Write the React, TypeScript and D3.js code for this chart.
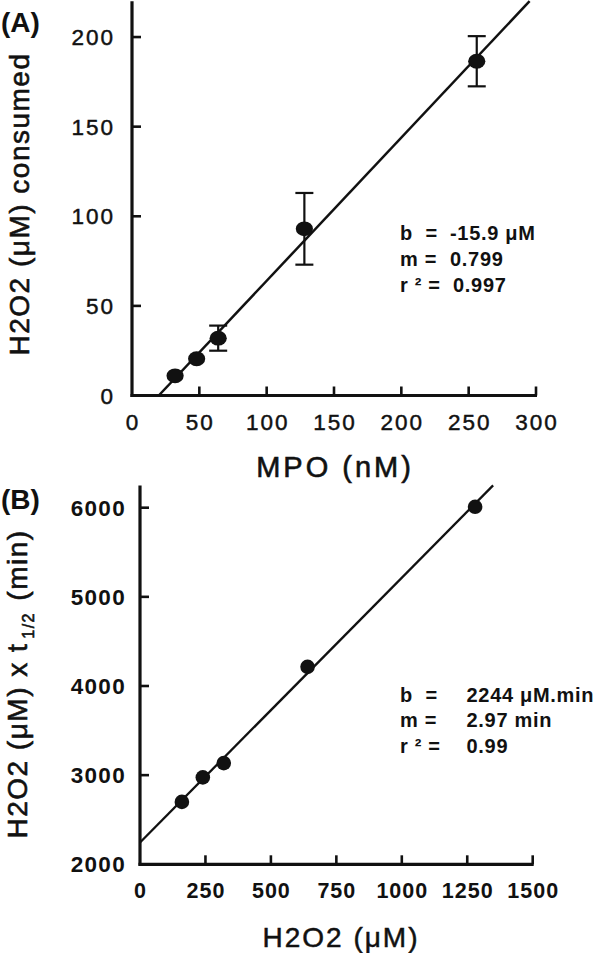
import React from 'react';
import * as d3 from 'd3';

// Panel A data
const mpoConc = [32, 48, 64, 128, 256];
const h2o2Consumed = [11, 20.5, 32, 93, 186.5];
const h2o2ConsumedErr = [0, 0, 7, 20, 14];
const fitA = { b: -15.9, m: 0.799 };
const xTicksA = [0, 50, 100, 150, 200, 250, 300];
const yTicksA = [0, 50, 100, 150, 200];
const statsA = [
  ['b  =', '-15.9 μM'],
  ['m =', '0.799'],
  ['r ² =', '0.997'],
];

// Panel B data
const h2o2Conc = [160, 240, 320, 640, 1280];
const h2o2TimesHalf = [2700, 2975, 3135, 4215, 6010];
const fitB = { b: 2244, m: 2.97 };
const xTicksB = [0, 250, 500, 750, 1000, 1250, 1500];
const yTicksB = [2000, 3000, 4000, 5000, 6000];
const statsB = [
  ['b  =', '2244 μM.min'],
  ['m =', '2.97 min'],
  ['r ² =', '0.99'],
];

const FONT = "'Liberation Sans', Arial, Helvetica, sans-serif";
const INK = '#111';

export default function App() {
  const xA = d3.scaleLinear().domain([0, 300]).range([132, 536]);
  const yA = d3.scaleLinear().domain([0, 220]).range([395.5, 1.2]);
  const xB = d3.scaleLinear().domain([0, 1500]).range([140, 532.7]);
  const yB = d3.scaleLinear().domain([2000, 6250]).range([864.3, 485.4]);

  const lineGen = d3.line<[number, number]>();

  const [ya0, ya1] = yA.domain();
  const fitAPts: [number, number][] = [
    [(ya0 - fitA.b) / fitA.m, ya0],
    [(ya1 - fitA.b) / fitA.m, ya1],
  ].map(([x, y]) => [xA(x), yA(y)] as [number, number]);

  const [, yb1] = yB.domain();
  const fitBPts: [number, number][] = [
    [0, fitB.b],
    [(yb1 - fitB.b) / fitB.m, yb1],
  ].map(([x, y]) => [xB(x), yB(y)] as [number, number]);

  const tickLen = 9;
  const thin = { stroke: INK, strokeWidth: 0.45 };

  return (
    <svg
      width={598}
      height={953}
      style={{ position: 'absolute', left: 0, top: 0, background: '#fff', display: 'block' }}
      fontFamily={FONT}
    >
      <rect x={0} y={0} width={598} height={953} fill="#fff" />

      {/* ===== Panel A ===== */}
      <text x={1} y={32} fontSize={28} fontWeight="bold" fill={INK}>(A)</text>

      <line x1={xA(0)} x2={xA(0)} y1={yA.range()[1]} y2={yA(0) + 1.5} stroke={INK} strokeWidth={3.2} />
      <line x1={xA(0) - 1.5} x2={xA(300) + 1} y1={yA(0)} y2={yA(0)} stroke={INK} strokeWidth={3.2} />
      {yTicksA.filter((t) => t > 0).map((t) => (
        <line key={'yta' + t} x1={xA(0)} x2={xA(0) + tickLen} y1={yA(t)} y2={yA(t)} stroke={INK} strokeWidth={2.6} />
      ))}
      {xTicksA.filter((t) => t > 0).map((t) => (
        <line key={'xta' + t} x1={xA(t)} x2={xA(t)} y1={yA(0)} y2={yA(0) - tickLen} stroke={INK} strokeWidth={2.6} />
      ))}
      {yTicksA.map((t) => (
        <text key={'ylA' + t} x={115} y={yA(t)} dy="0.36em" textAnchor="end" fontSize={22.5} letterSpacing={2} fill={INK} {...thin}>
          {t}
        </text>
      ))}
      {xTicksA.map((t) => (
        <text key={'xlA' + t} x={xA(t) + 1} y={430} textAnchor="middle" fontSize={22.5} letterSpacing={2} fill={INK} {...thin}>
          {t}
        </text>
      ))}
      <text x={335} y={477} textAnchor="middle" fontSize={29} letterSpacing={3} fill={INK} stroke={INK} strokeWidth={0.6}>MPO (nM)</text>
      <text
        transform={`translate(29, 204) rotate(-90)`}
        textAnchor="middle"
        fontSize={28}
        letterSpacing={1.5}
        fill={INK}
        stroke={INK}
        strokeWidth={0.6}
      >
        H2O2 (μM) consumed
      </text>

      <path d={lineGen(fitAPts) || ''} stroke={INK} strokeWidth={2.5} fill="none" />

      {mpoConc.map((x, i) => {
        if (!h2o2ConsumedErr[i]) return null;
        const cx = xA(x);
        const top = yA(h2o2Consumed[i] + h2o2ConsumedErr[i]);
        const bot = yA(h2o2Consumed[i] - h2o2ConsumedErr[i]);
        return (
          <g key={'eb' + i} stroke={INK} strokeWidth={2.2}>
            <line x1={cx} x2={cx} y1={top} y2={bot} />
            <line x1={cx - 9} x2={cx + 9} y1={top} y2={top} />
            <line x1={cx - 9} x2={cx + 9} y1={bot} y2={bot} />
          </g>
        );
      })}
      {mpoConc.map((x, i) => (
        <ellipse key={'pa' + i} cx={xA(x)} cy={yA(h2o2Consumed[i])} rx={8.6} ry={7.4} fill={INK} />
      ))}

      {statsA.map(([l, v], i) => (
        <g key={'sa' + i} fontSize={20} fontWeight="bold" fill={INK} letterSpacing={0.7}>
          <text x={400} y={240 + i * 26} style={{ whiteSpace: 'pre' }}>{l}</text>
          <text x={i === 2 ? 453 : 450} y={240 + i * 26} style={{ whiteSpace: 'pre' }}>{v}</text>
        </g>
      ))}

      {/* ===== Panel B ===== */}
      <text x={1} y={509} fontSize={28} fontWeight="bold" fill={INK}>(B)</text>

      <line x1={xB(0)} x2={xB(0)} y1={yB.range()[1]} y2={yB(2000) + 1.5} stroke={INK} strokeWidth={3.2} />
      <line x1={xB(0) - 1.5} x2={xB(1500) + 1} y1={yB(2000)} y2={yB(2000)} stroke={INK} strokeWidth={3.2} />
      {yTicksB.filter((t) => t > 2000).map((t) => (
        <line key={'ytb' + t} x1={xB(0)} x2={xB(0) + tickLen} y1={yB(t)} y2={yB(t)} stroke={INK} strokeWidth={2.6} />
      ))}
      {xTicksB.filter((t) => t > 0).map((t) => (
        <line key={'xtb' + t} x1={xB(t)} x2={xB(t)} y1={yB(2000)} y2={yB(2000) - tickLen} stroke={INK} strokeWidth={2.6} />
      ))}
      {yTicksB.map((t) => (
        <text key={'ylB' + t} x={126} y={yB(t)} dy="0.36em" textAnchor="end" fontSize={22.5} fontWeight="bold" letterSpacing={1.3} fill={INK}>
          {t}
        </text>
      ))}
      {xTicksB.map((t) => (
        <text key={'xlB' + t} x={xB(t) + 0.5} y={898} textAnchor="middle" fontSize={21.5} fontWeight="bold" letterSpacing={1} fill={INK}>
          {t}
        </text>
      ))}
      <text x={341} y={947} textAnchor="middle" fontSize={28} letterSpacing={2} fill={INK} stroke={INK} strokeWidth={0.5}>H2O2 (μM)</text>
      <text
        transform={`translate(27, 684) rotate(-90)`}
        textAnchor="middle"
        fontSize={28}
        letterSpacing={1.5}
        fill={INK}
        stroke={INK}
        strokeWidth={0.6}
      >
        <tspan>H2O2 (μM) x t</tspan>
        <tspan fontSize={16} dy={7} dx={4}>1/2</tspan>
        <tspan dy={-7} dx={2}> (min)</tspan>
      </text>

      <path d={lineGen(fitBPts) || ''} stroke={INK} strokeWidth={2.3} fill="none" />
      {h2o2Conc.map((x, i) => (
        <circle key={'pb' + i} cx={xB(x)} cy={yB(h2o2TimesHalf[i])} r={7.3} fill={INK} />
      ))}

      {statsB.map(([l, v], i) => (
        <g key={'sb' + i} fontSize={20} fontWeight="bold" fill={INK} letterSpacing={0.7}>
          <text x={400} y={701.5 + i * 25.5} style={{ whiteSpace: 'pre' }}>{l}</text>
          <text x={466.5} y={701.5 + i * 25.5} style={{ whiteSpace: 'pre' }}>{v}</text>
        </g>
      ))}
    </svg>
  );
}
